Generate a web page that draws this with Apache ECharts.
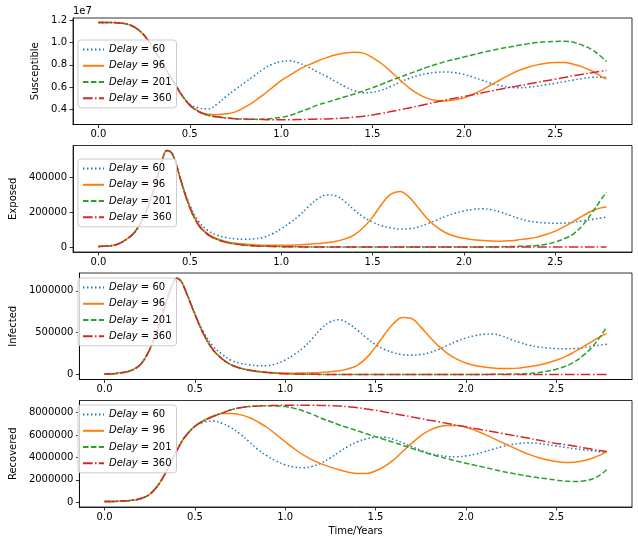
<!DOCTYPE html>
<html>
<head>
<meta charset="utf-8">
<script src="https://cdn.jsdelivr.net/npm/echarts@6/dist/echarts.min.js"></script>
<style>html,body{margin:0;padding:0;background:#fff}#c{width:638px;height:545px}</style>
</head>
<body>
<div id="c"></div>
<script>
// time axis (years)
const times = [0,0.05,0.1,0.15,0.2,0.25,0.3,0.35,0.375,0.4,0.425,0.45,0.5,0.55,0.6,0.65,0.7,0.75,0.8,0.85,0.9,0.95,1.0,1.05,1.1,1.15,1.2,1.25,1.3,1.35,1.4,1.45,1.5,1.55,1.6,1.65,1.7,1.75,1.8,1.85,1.9,1.95,2.0,2.05,2.1,2.15,2.2,2.25,2.3,2.35,2.4,2.45,2.5,2.55,2.6,2.65,2.7,2.75,2.78];
const delays = [60, 96, 201, 360];
const xTicks = [0, 0.5, 1.0, 1.5, 2.0, 2.5];

// Susceptible (units of 1e7)
const S60  = [1.18,1.18,1.177,1.167,1.135,1.065,0.95,0.815,0.745,0.68,0.615,0.545,0.45,0.415,0.406,0.45,0.52,0.58,0.64,0.70,0.76,0.805,0.83,0.837,0.815,0.78,0.735,0.695,0.65,0.605,0.57,0.55,0.555,0.575,0.607,0.645,0.678,0.705,0.722,0.733,0.736,0.73,0.715,0.69,0.662,0.635,0.615,0.6,0.595,0.6,0.61,0.622,0.635,0.65,0.665,0.678,0.688,0.69,0.686];
const S96  = [1.18,1.18,1.177,1.167,1.135,1.065,0.95,0.815,0.745,0.68,0.615,0.545,0.44,0.385,0.358,0.355,0.362,0.38,0.42,0.47,0.53,0.595,0.66,0.71,0.76,0.80,0.835,0.865,0.89,0.907,0.914,0.905,0.865,0.81,0.74,0.665,0.595,0.54,0.50,0.482,0.478,0.487,0.505,0.537,0.577,0.622,0.667,0.71,0.75,0.778,0.80,0.815,0.822,0.822,0.805,0.78,0.745,0.70,0.672];
const S201 = [1.18,1.18,1.177,1.167,1.135,1.065,0.95,0.815,0.745,0.68,0.615,0.545,0.44,0.38,0.35,0.335,0.325,0.318,0.315,0.313,0.315,0.32,0.33,0.35,0.378,0.408,0.44,0.465,0.49,0.515,0.54,0.567,0.595,0.627,0.66,0.69,0.72,0.75,0.78,0.805,0.83,0.85,0.87,0.89,0.91,0.928,0.945,0.96,0.975,0.988,1.0,1.007,1.01,1.012,1.002,0.975,0.937,0.875,0.83];
const S360 = [1.18,1.18,1.177,1.167,1.135,1.065,0.95,0.815,0.745,0.68,0.615,0.545,0.44,0.38,0.35,0.335,0.325,0.318,0.315,0.313,0.311,0.31,0.31,0.31,0.311,0.313,0.315,0.317,0.32,0.325,0.332,0.341,0.352,0.366,0.382,0.398,0.415,0.432,0.45,0.468,0.487,0.502,0.517,0.533,0.55,0.567,0.583,0.598,0.613,0.628,0.643,0.658,0.672,0.688,0.703,0.717,0.73,0.743,0.75];

// Exposed
const E60  = [4000,6000,15000,42000,88000,177000,320000,500000,552000,538000,475000,385000,240000,145000,95000,68000,54000,47000,45000,47000,55000,75000,105000,140000,181000,232000,275000,298000,292000,258000,212000,172000,143000,122000,110000,103000,105000,115000,133000,154000,175000,193000,206000,215000,219000,213000,200000,182000,164000,150000,142000,138000,136000,137000,142000,150000,158000,166000,171000];
const E96  = [4000,6000,15000,42000,88000,177000,320000,500000,552000,538000,475000,383000,230000,128000,75000,48000,31000,22000,17000,13000,11000,10000,10000,11000,13000,16000,20000,25000,33000,47000,70000,112000,171000,245000,302000,318000,285000,225000,162000,115000,82000,62000,50000,42000,38000,35000,34000,36000,42000,48000,57000,72000,91000,117000,147000,178000,206000,224000,229000];
const E201 = [4000,6000,15000,42000,88000,177000,320000,500000,552000,538000,475000,383000,225000,122000,70000,43000,27000,17000,11000,7000,5000,3500,2500,1800,1300,1000,800,700,600,500,500,500,500,500,500,500,500,500,500,500,500,600,700,850,1000,1500,2000,3000,4500,6000,9000,16000,29000,48000,76000,125000,194000,270000,314000];
const E360 = [4000,6000,15000,42000,88000,177000,320000,500000,552000,538000,475000,383000,225000,122000,70000,43000,27000,17000,11000,7000,5000,3500,2500,1800,1300,1000,800,700,600,500,500,500,500,500,500,500,500,500,500,500,500,500,500,500,500,500,500,500,500,500,500,500,500,500,500,500,500,500,500];

// Infected
const I60  = [8000,12000,25000,52000,125000,300000,590000,925000,1070000,1150000,1110000,1000000,730000,500000,340000,245000,172000,138000,118000,106000,108000,130000,175000,240000,320000,430000,550000,630000,655000,610000,530000,440000,360000,300000,263000,240000,231000,240000,263000,302000,351000,398000,438000,466000,482000,485000,462000,420000,382000,352000,331000,318000,311000,309000,311000,322000,339000,355000,363000];
const I96  = [8000,12000,25000,52000,125000,300000,590000,925000,1070000,1150000,1110000,992000,722000,476000,300000,192000,120000,80000,55000,40000,30000,23000,19000,18000,19000,22000,27000,35000,47000,70000,112000,200000,331000,480000,610000,683000,670000,570000,450000,340000,251000,185000,139000,110000,92000,80000,73000,73000,80000,93000,112000,138000,171000,215000,271000,332000,398000,460000,490000];
const I201 = [8000,12000,25000,52000,125000,300000,590000,925000,1070000,1150000,1110000,992000,722000,476000,297000,190000,118000,78000,52000,36000,25000,17000,11000,8000,5500,4000,3000,2500,2000,2000,2000,2000,2000,2000,2000,2000,2000,2000,2000,2000,2000,2000,2000,2500,3000,4000,5500,7000,9000,14000,24000,40000,64000,100000,151000,230000,331000,470000,570000];
const I360 = [8000,12000,25000,52000,125000,300000,590000,925000,1070000,1150000,1110000,992000,722000,476000,297000,190000,118000,78000,52000,36000,25000,17000,11000,8000,5500,4000,3000,2500,2000,2000,2000,2000,2000,2000,2000,2000,2000,2000,2000,2000,2000,2000,2000,2000,2000,2000,2000,2000,2000,2000,2000,2000,2000,2000,2000,2000,2000,2000,2000];

// Recovered
const R60  = [55000,65000,100000,160000,320000,700000,1600000,3000000,3850000,4600000,5350000,5930000,6780000,7150000,7250000,7050000,6650000,6100000,5400000,4700000,4130000,3680000,3340000,3130000,3070000,3200000,3500000,3950000,4500000,5000000,5400000,5650000,5790000,5800000,5620000,5300000,4960000,4650000,4370000,4180000,4070000,4050000,4130000,4280000,4490000,4730000,4960000,5150000,5250000,5300000,5250000,5150000,5020000,4900000,4780000,4690000,4600000,4480000,4430000];
const R96  = [55000,65000,100000,160000,320000,700000,1600000,3000000,3850000,4600000,5350000,5930000,6780000,7300000,7700000,7920000,7930000,7820000,7560000,7150000,6670000,6050000,5400000,4780000,4220000,3780000,3420000,3130000,2890000,2680000,2560000,2550000,2780000,3200000,3780000,4520000,5250000,5920000,6440000,6730000,6850000,6850000,6700000,6430000,6080000,5720000,5340000,4960000,4600000,4270000,3990000,3780000,3630000,3550000,3570000,3700000,3930000,4250000,4490000];
const R201 = [55000,65000,100000,160000,320000,700000,1600000,3000000,3850000,4600000,5350000,5930000,6780000,7280000,7650000,7950000,8250000,8440000,8540000,8600000,8620000,8600000,8540000,8380000,8150000,7850000,7500000,7200000,6900000,6640000,6380000,6110000,5850000,5600000,5340000,5080000,4810000,4560000,4310000,4080000,3870000,3670000,3480000,3300000,3130000,2940000,2750000,2600000,2450000,2310000,2180000,2080000,1980000,1880000,1840000,1900000,2070000,2500000,2890000];
const R360 = [55000,65000,100000,160000,320000,700000,1600000,3000000,3850000,4600000,5350000,5930000,6780000,7280000,7650000,7950000,8250000,8440000,8540000,8600000,8620000,8640000,8650000,8650000,8650000,8650000,8640000,8620000,8590000,8520000,8440000,8330000,8210000,8060000,7910000,7770000,7620000,7470000,7320000,7180000,7030000,6880000,6730000,6590000,6440000,6290000,6140000,6000000,5850000,5700000,5550000,5400000,5250000,5140000,5020000,4870000,4720000,4590000,4520000];

const sTicks = [0.4,0.6,0.8,1.0,1.2];
const eTicks = [0,200000,400000];
const iTicks = [0,500000,1000000];
const rTicks = [0,2000000,4000000,6000000,8000000];

const panels = [
  {name:'Susceptible', data:[S60,S96,S201,S360], ticks:sTicks, min:0.2667, max:1.2193, fmt:v=>v.toFixed(1), gap:24, legendTop:40},
  {name:'Exposed', data:[E60,E96,E201,E360], ticks:eTicks, min:-28000, max:580000, fmt:v=>String(Math.round(v)), gap:45, legendTop:159},
  {name:'Infected', data:[I60,I96,I201,I360], ticks:iTicks, min:-57750, max:1212750, fmt:v=>String(Math.round(v)), gap:56, legendTop:278},
  {name:'Recovered', data:[R60,R96,R201,R360], ticks:rTicks, min:-432500, max:9082500, fmt:v=>String(Math.round(v)), gap:56, legendTop:405}
];

const colors = ['#1f77b4','#ff7f0e','#2ca02c','#d62728'];
const dashes = [[1.5,2.5],'solid',[5.5,2.4],[9.6,2.4,1.5,2.4]];
const names = delays.map(d => 'Delay = ' + d);
const font = 'DejaVu Sans';
const tops = [18, 145.5, 273, 400.5];

const grid = [], xAxis = [], yAxis = [], series = [], legend = [];
panels.forEach((p, k) => {
  grid.push({left:73, width:559, top:tops[k], height:106.5, show:true, borderColor:'#000', borderWidth:0.8, backgroundColor:'transparent'});
  xAxis.push({
    type:'value', gridIndex:k, min:-0.139, max:2.92,
    name: k === 3 ? 'Time/Years' : '', nameLocation:'middle', nameGap:19,
    nameTextStyle:{fontFamily:font, fontSize:10, color:'#000'},
    axisLine:{show:true, onZero:false, lineStyle:{color:'#000', width:0.8}},
    axisTick:{show:true, length:3.5, lineStyle:{color:'#000', width:0.8}, customValues:xTicks},
    axisLabel:{show:true, margin:5, fontFamily:font, fontSize:10, color:'#000', customValues:xTicks, formatter:v=>v.toFixed(1)},
    splitLine:{show:false}
  });
  yAxis.push({
    type:'value', gridIndex:k, min:p.min, max:p.max,
    name:p.name, nameLocation:'middle', nameGap:p.gap,
    nameTextStyle:{fontFamily:font, fontSize:10, color:'#000'},
    axisLine:{show:true, onZero:false, lineStyle:{color:'#000', width:0.8}},
    axisTick:{show:true, length:3.5, lineStyle:{color:'#000', width:0.8}, customValues:p.ticks},
    axisLabel:{show:true, margin:6, fontFamily:font, fontSize:10, color:'#000', customValues:p.ticks, formatter:p.fmt},
    splitLine:{show:false}
  });
  p.data.forEach((arr, j) => {
    series.push({
      type:'line', name:names[j], xAxisIndex:k, yAxisIndex:k,
      data: times.map((t, i) => [t, arr[i]]),
      smooth:0.4, symbol:'none', showSymbol:false, clip:true,
      lineStyle:{color:colors[j], width:1.5, type:dashes[j]},
      itemStyle:{color:colors[j]},
      emphasis:{disabled:true}
    });
  });
  legend.push({
    data:names, left:78, top:p.legendTop, orient:'vertical',
    itemWidth:21, itemHeight:14, itemGap:5, padding:[4,5,4,4],
    backgroundColor:'rgba(255,255,255,0.8)', borderColor:'#cccccc', borderWidth:1, borderRadius:3,
    selectedMode:false,
    itemStyle:{opacity:0},
    formatter: n => '{i|Delay} = ' + n.split('= ')[1],
    textStyle:{fontFamily:font, fontSize:10, color:'#000', rich:{i:{fontFamily:font, fontSize:10, fontStyle:'italic', color:'#000'}}}
  });
});

const chart = echarts.init(document.getElementById('c'), null, {renderer:'canvas'});
chart.setOption({
  animation:false,
  backgroundColor:'#fff',
  grid, xAxis, yAxis, series, legend,
  graphic:[{type:'text', left:73, top:6, style:{text:'1e7', fontFamily:font, fontSize:10, fill:'#000'}}]
});
</script>
</body>
</html>
